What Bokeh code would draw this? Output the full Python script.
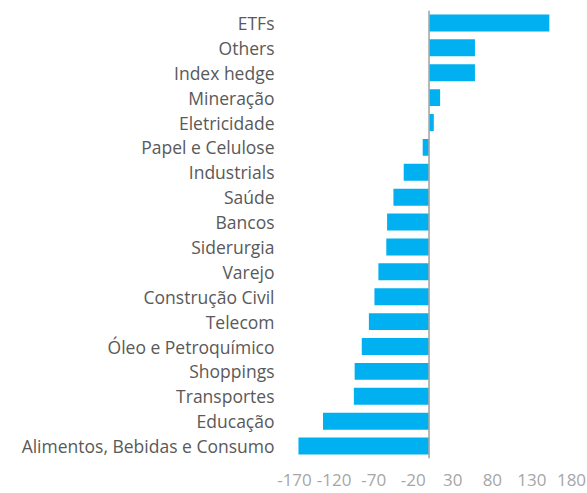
from bokeh.plotting import figure
from bokeh.models import ColumnDataSource, FixedTicker, Span
from bokeh.embed import file_html
from bokeh.resources import INLINE

categories = ["ETFs", "Others", "Index hedge", "Mineração", "Eletricidade",
              "Papel e Celulose", "Industrials", "Saúde", "Bancos", "Siderurgia",
              "Varejo", "Construção Civil", "Telecom", "Óleo e Petroquímico",
              "Shoppings", "Transportes", "Educação", "Alimentos, Bebidas e Consumo"]
values = [152, 58, 58, 14, 6, -8, -32, -45, -53, -54, -64, -69, -76, -85, -94, -95, -134, -165]
x_ticks = [-170, -120, -70, -20, 30, 80, 130, 180]

src = ColumnDataSource(dict(cat=categories, val=values))

p = figure(width=587, height=493, output_backend="svg", toolbar_location=None,
           y_range=list(reversed(categories)), x_range=(-170, 180),
           min_border_left=294, min_border_right=16, min_border_top=10, min_border_bottom=35)

p.hbar(y="cat", left=0, right="val", height=0.68, source=src,
       fill_color="#00B0F0", line_color=None)

p.add_layout(Span(location=0, dimension="height", line_color="#A6A6A6", line_width=1.6))

p.outline_line_color = None
p.grid.grid_line_color = None
p.xaxis.ticker = FixedTicker(ticks=x_ticks)
p.xaxis.major_label_overrides = {t: str(t) for t in x_ticks}
for ax in (p.xaxis, p.yaxis):
    ax.axis_line_color = None
    ax.major_tick_line_color = None
    ax.minor_tick_line_color = None
    ax.major_tick_out = 0
    ax.major_tick_in = 0
    ax.major_label_text_font = "Open Sans"
p.xaxis.major_label_text_font_size = "17px"
p.yaxis.major_label_text_font_size = "17.5px"
p.xaxis.major_label_text_color = "#A6A6A6"
p.yaxis.major_label_text_color = "#595959"
p.xaxis.major_label_standoff = 15
p.yaxis.major_label_standoff = 20

open("out.html", "w").write(file_html(p, INLINE))
